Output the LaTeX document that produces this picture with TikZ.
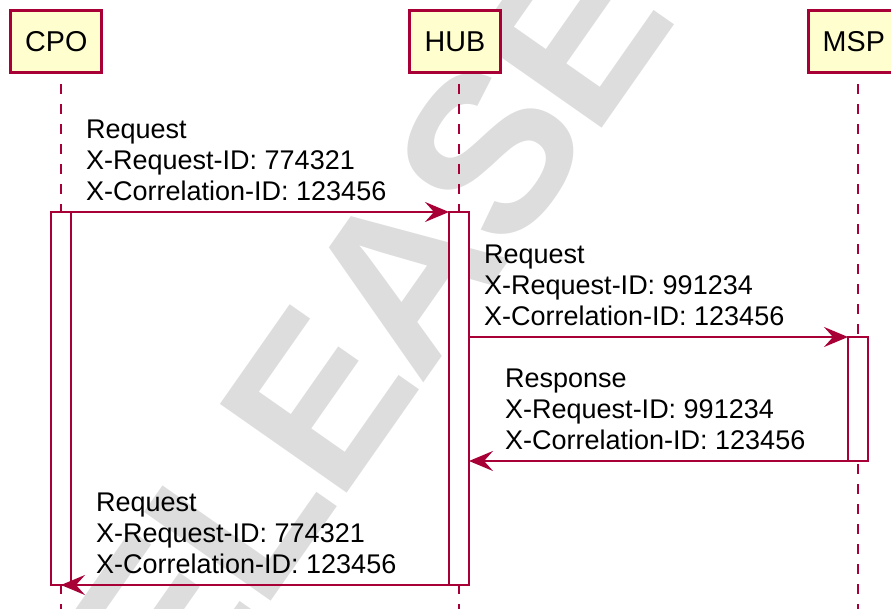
\documentclass[tikz,border=0pt]{standalone}
\usepackage{fontspec}
\setmainfont{Liberation Sans}
\newfontfamily\markfont[LetterSpace=-2.5]{Liberation Sans}
\usetikzlibrary{arrows.meta}
\definecolor{umlred}{HTML}{A80036}
\definecolor{umlfill}{HTML}{FEFECE}
\definecolor{markgray}{HTML}{DDDDDD}
\tikzset{
  actor/.style={draw=umlred, fill=umlfill, line width=3pt, minimum width=91pt,
    minimum height=62pt, inner sep=0pt, font=\fontsize{28.7}{34}\selectfont},
  lifeline/.style={umlred, line width=2pt, dash pattern=on 10pt off 10pt},
  activ/.style={draw=umlred, fill=white, line width=2pt, minimum width=20pt,
    inner sep=0pt, outer sep=0pt},
  msg/.style={umlred, line width=2pt, -{Stealth[length=24pt,width=20pt,inset=9pt]}},
  msgtext/.style={align=left, anchor=north west, inner sep=0pt,
    font=\fontsize{27}{31}\selectfont},
  watermark/.style={text=markgray, rotate=55, anchor=base west, inner sep=0pt,
    font=\markfont\bfseries\fontsize{225}{225}\selectfont}
}
\begin{document}
\begin{tikzpicture}[x=1pt,y=-1pt]
\useasboundingbox (0,0) rectangle (891,609);
\node[watermark] (mark) at (89.5,860.6) {RELEASE};
\coordinate (bottom) at (0,609);
\coordinate (cpoline) at (61,84);
\coordinate (hubline) at (459,84);
\coordinate (mspline) at (858,84);
\draw[lifeline] (cpoline) -- (cpoline |- bottom);
\draw[lifeline] (hubline) -- (hubline |- bottom);
\draw[lifeline] (mspline) -- (mspline |- bottom);
\node[actor] (cpo) at (56.3,41.7) {CPO};
\node[actor] (hub) at (455,41.7) {HUB};
\node[actor] (msp) at (853.8,41.7) {MSP};
\node[activ, minimum height=373pt] (cpoact) at (61,398.5) {};
\node[activ, minimum height=373pt] (hubact) at (459,398.5) {};
\node[activ, minimum height=124pt] (mspact) at (858,399) {};
\draw[msg] (cpoact.north east) -- (hubact.north west);
\draw[msg] (hubact.east |- mspact.north) -- (mspact.north west);
\draw[msg] (mspact.south west) -- (hubact.east |- mspact.south);
\draw[msg] (hubact.south west) -- (cpoact.south);
\node[msgtext] (req1) at (86,120.2) {Request\\X-Request-ID: 774321\\X-Correlation-ID: 123456};
\node[msgtext] (req2) at (484,245.2) {Request\\X-Request-ID: 991234\\X-Correlation-ID: 123456};
\node[msgtext] (resp) at (505,369.2) {Response\\X-Request-ID: 991234\\X-Correlation-ID: 123456};
\node[msgtext] (req3) at (96,493.2) {Request\\X-Request-ID: 774321\\X-Correlation-ID: 123456};
\end{tikzpicture}
\end{document}
